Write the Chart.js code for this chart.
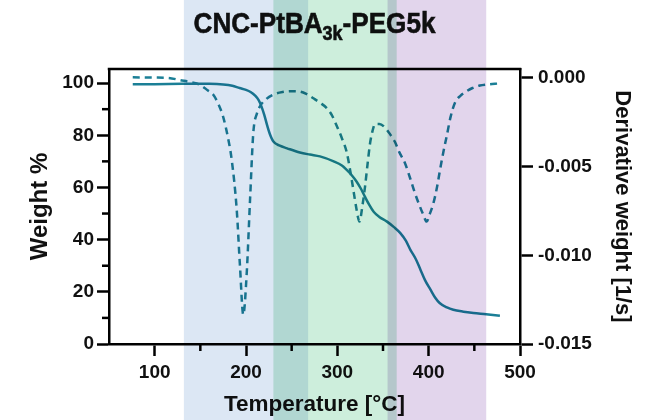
<!DOCTYPE html>
<html>
<head>
<meta charset="utf-8">
<script src="https://cdn.jsdelivr.net/npm/chart.js@4.4.0/dist/chart.umd.min.js"></script>
<style>
  html, body { margin: 0; padding: 0; background: #fff; }
  canvas { display: block; }
</style>
</head>
<body>
<canvas id="c" width="652" height="420"></canvas>
<script>
// TGA weight-loss curve (left axis, %)
const weightTemps = [76, 100, 130, 160, 175, 185, 193, 200, 205, 210, 214, 217, 220, 223, 226, 230,
  237, 245, 259, 270, 281, 296, 305, 310, 316, 321, 326, 330, 335, 340, 346, 354, 362, 369, 375,
  380, 386, 391, 396, 402, 407, 412, 420, 427, 438, 449, 463, 478];
const weightPct = [99.6, 99.6, 99.7, 99.7, 99.5, 99.0, 98.1, 97.4, 96.6, 95.2, 93.4, 91.0, 87.8, 84.0, 80.6, 77.6,
  76.0, 75.0, 73.4, 72.6, 71.9, 70.0, 68.4, 66.8, 64.6, 62.3, 59.4, 56.6, 53.3, 50.6, 48.7, 47.0, 44.8, 42.5, 39.6,
  36.1, 32.5, 28.5, 24.5, 20.8, 17.8, 15.7, 14.0, 13.1, 12.4, 11.9, 11.4, 10.8];

// Derivative of weight (right axis, 1/s)
const derivTemps = [76, 100, 115, 128, 140, 150, 158, 164, 170, 175, 180, 184.3, 189.8, 193.4, 197, 200.8,
  204.4, 208, 212, 215.3, 222, 230, 240, 251.8, 259, 266, 273.7, 281, 288.4, 294, 299.3, 305, 310.3, 314,
  317.5, 321, 324.2, 327.5, 330.4, 333, 335.8, 338.5, 341.3, 346, 352.2, 358, 363, 368, 374, 380, 385, 390,
  394, 397.8, 401, 405, 409, 412.4, 416, 419.7, 424, 428.8, 435, 441.6, 448, 456, 466, 476];
const derivWeight = [0.00003, 0.00002, 0, -0.00013, -0.00025, -0.0004, -0.0007, -0.00094, -0.0015, -0.0022,
  -0.0033, -0.0046, -0.0074, -0.0106, -0.01335, -0.011, -0.0069, -0.0031, -0.002, -0.0016, -0.0012, -0.00094,
  -0.0008, -0.00075, -0.00077, -0.0009, -0.00115, -0.0014, -0.0017, -0.0021, -0.0027, -0.0034, -0.0042, -0.0052,
  -0.0063, -0.0074, -0.0081, -0.0072, -0.0061, -0.0049, -0.0037, -0.003, -0.0026, -0.0026, -0.0028, -0.0032,
  -0.0036, -0.0042, -0.0048, -0.0057, -0.0065, -0.0072, -0.0077, -0.0081, -0.0077, -0.0071, -0.0062, -0.0052,
  -0.0042, -0.0033, -0.0022, -0.0014, -0.001, -0.00075, -0.00057, -0.00043, -0.00036, -0.00032];

// Decomposition stage temperature windows (°C)
const stageStart = [132, 230, 355];
const stageEnd = [268, 365, 463];
const stageColors = ['#dce7f4', '#cdeedc', '#e2d5ec'];

// Chart title pieces (main text / subscript)
const titleParts = [['CNC-PtBA', false], ['3k', true], ['-PEG5k', false]];

const FONT = '"Liberation Sans", Arial, Helvetica, sans-serif';
const INK = '#111';
const LINE = '#1b7f96';

const xyPairs = (xs, ys) => xs.map((x, i) => ({ x, y: ys[i] }));

const frame = {
  id: 'frame',
  beforeDraw(chart) {
    const { ctx, chartArea } = chart;
    ctx.save();
    ctx.fillStyle = '#fff';
    ctx.fillRect(0, 0, chart.width, chart.height);
    // title with subscript
    const sx = 0.9;
    const mainFont = 'bold 29px ' + FONT;
    const subFont = 'bold 20px ' + FONT;
    let total = 0;
    const widths = titleParts.map(([t, sub]) => {
      ctx.font = sub ? subFont : mainFont;
      const w = ctx.measureText(t).width;
      total += w;
      return w;
    });
    ctx.translate((chartArea.left + chartArea.right) / 2, 33);
    ctx.scale(sx, 1);
    ctx.fillStyle = INK;
    ctx.strokeStyle = INK;
    ctx.lineWidth = 0.6;
    ctx.textBaseline = 'alphabetic';
    let x = -total / 2;
    titleParts.forEach(([t, sub], i) => {
      ctx.font = sub ? subFont : mainFont;
      ctx.fillText(t, x, sub ? 7 : 0);
      ctx.strokeText(t, x, sub ? 7 : 0);
      x += widths[i];
    });
    ctx.restore();
  },
  afterDraw(chart) {
    const { ctx, chartArea, scales } = chart;
    ctx.save();
    ctx.strokeStyle = '#000';
    ctx.lineWidth = 2.5;
    // top frame line
    ctx.beginPath();
    ctx.moveTo(chartArea.left - 1.25, chartArea.top);
    ctx.lineTo(chartArea.right + 1.25, chartArea.top);
    ctx.stroke();
    // minor ticks
    const minorLen = 7;
    const xs = scales.x;
    xs.ticks.forEach(t => {
      if (t.value % 100 === 0 || t.value === xs.min) return;
      const px = xs.getPixelForValue(t.value);
      ctx.beginPath();
      ctx.moveTo(px, chartArea.bottom);
      ctx.lineTo(px, chartArea.bottom + minorLen);
      ctx.stroke();
    });
    const ys = scales.y;
    ys.ticks.forEach(t => {
      if (t.value % 20 === 0) return;
      const py = ys.getPixelForValue(t.value);
      ctx.beginPath();
      ctx.moveTo(chartArea.left, py);
      ctx.lineTo(chartArea.left - minorLen, py);
      ctx.stroke();
    });
    // temperature stage bands, blended over everything
    ctx.globalCompositeOperation = 'multiply';
    stageStart.forEach((s, i) => {
      const a = xs.getPixelForValue(s);
      const b = xs.getPixelForValue(stageEnd[i]);
      ctx.fillStyle = stageColors[i];
      ctx.fillRect(a, 0, b - a, chart.height);
    });
    ctx.restore();
  }
};

const tickFont = { family: FONT, size: 19, weight: 'bold' };
const titleFont = { family: FONT, size: 22.5, weight: 'bold' };

new Chart(document.getElementById('c'), {
  type: 'line',
  data: {
    datasets: [
      {
        label: 'Weight',
        data: xyPairs(weightTemps, weightPct),
        yAxisID: 'y',
        borderColor: LINE,
        borderWidth: 2.5,
        pointRadius: 0,
        cubicInterpolationMode: 'monotone',
        fill: false
      },
      {
        label: 'Derivative weight',
        data: xyPairs(derivTemps, derivWeight),
        yAxisID: 'y1',
        borderColor: LINE,
        borderWidth: 2.5,
        borderDash: [7, 5],
        pointRadius: 0,
        cubicInterpolationMode: 'monotone',
        fill: false
      }
    ]
  },
  options: {
    responsive: false,
    animation: false,
    devicePixelRatio: 1,
    layout: { padding: { top: 69, left: 0, right: 0, bottom: 0 } },
    plugins: { legend: { display: false }, tooltip: { enabled: false } },
    scales: {
      x: {
        type: 'linear',
        min: 50, max: 500,
        afterFit: s => { s.height = 76; },
        border: { display: true, width: 2.5, color: '#000' },
        grid: {
          drawOnChartArea: false, drawTicks: true, tickLength: 12, tickWidth: 2.5,
          tickColor: c => (c.tick && c.tick.value % 100 === 0 ? '#000' : 'rgba(0,0,0,0)')
        },
        ticks: {
          stepSize: 50, autoSkip: false, maxRotation: 0, includeBounds: false,
          padding: 5, color: INK, font: tickFont,
          callback: v => (v % 100 === 0 ? String(v) : '')
        },
        title: { display: true, text: 'Temperature [°C]', color: INK, font: titleFont, padding: { top: 0, bottom: 2 } }
      },
      y: {
        type: 'linear', position: 'left',
        min: 0, max: 105.4,
        afterFit: s => { s.width = 109; },
        border: { display: true, width: 2.5, color: '#000' },
        grid: {
          drawOnChartArea: false, drawTicks: true, tickLength: 12, tickWidth: 2.5,
          tickColor: c => (c.tick && c.tick.value % 20 === 0 ? '#000' : 'rgba(0,0,0,0)')
        },
        ticks: {
          stepSize: 10, autoSkip: false, includeBounds: false,
          padding: 3, color: INK, font: tickFont,
          callback: v => (v % 20 === 0 ? String(v) : '')
        },
        title: { display: true, text: 'Weight %', color: INK, font: { family: FONT, size: 24, weight: 'bold' }, padding: { top: 26, bottom: 0 } }
      },
      y1: {
        type: 'linear', position: 'right',
        min: -0.015, max: 0.0005,
        afterFit: s => { s.width = 132; },
        border: { display: true, width: 2.5, color: '#000' },
        grid: { drawOnChartArea: false, drawTicks: true, tickLength: 13, tickWidth: 2.5, tickColor: '#000' },
        ticks: {
          stepSize: 0.005, autoSkip: false, includeBounds: false,
          padding: 5, color: INK, font: tickFont,
          callback: v => Number(v).toFixed(3)
        },
        title: { display: true, text: 'Derivative weight [1/s]', color: INK, font: { family: FONT, size: 22, weight: 'bold' }, padding: { top: 17, bottom: 0 } }
      }
    }
  },
  plugins: [frame]
});
</script>
</body>
</html>
